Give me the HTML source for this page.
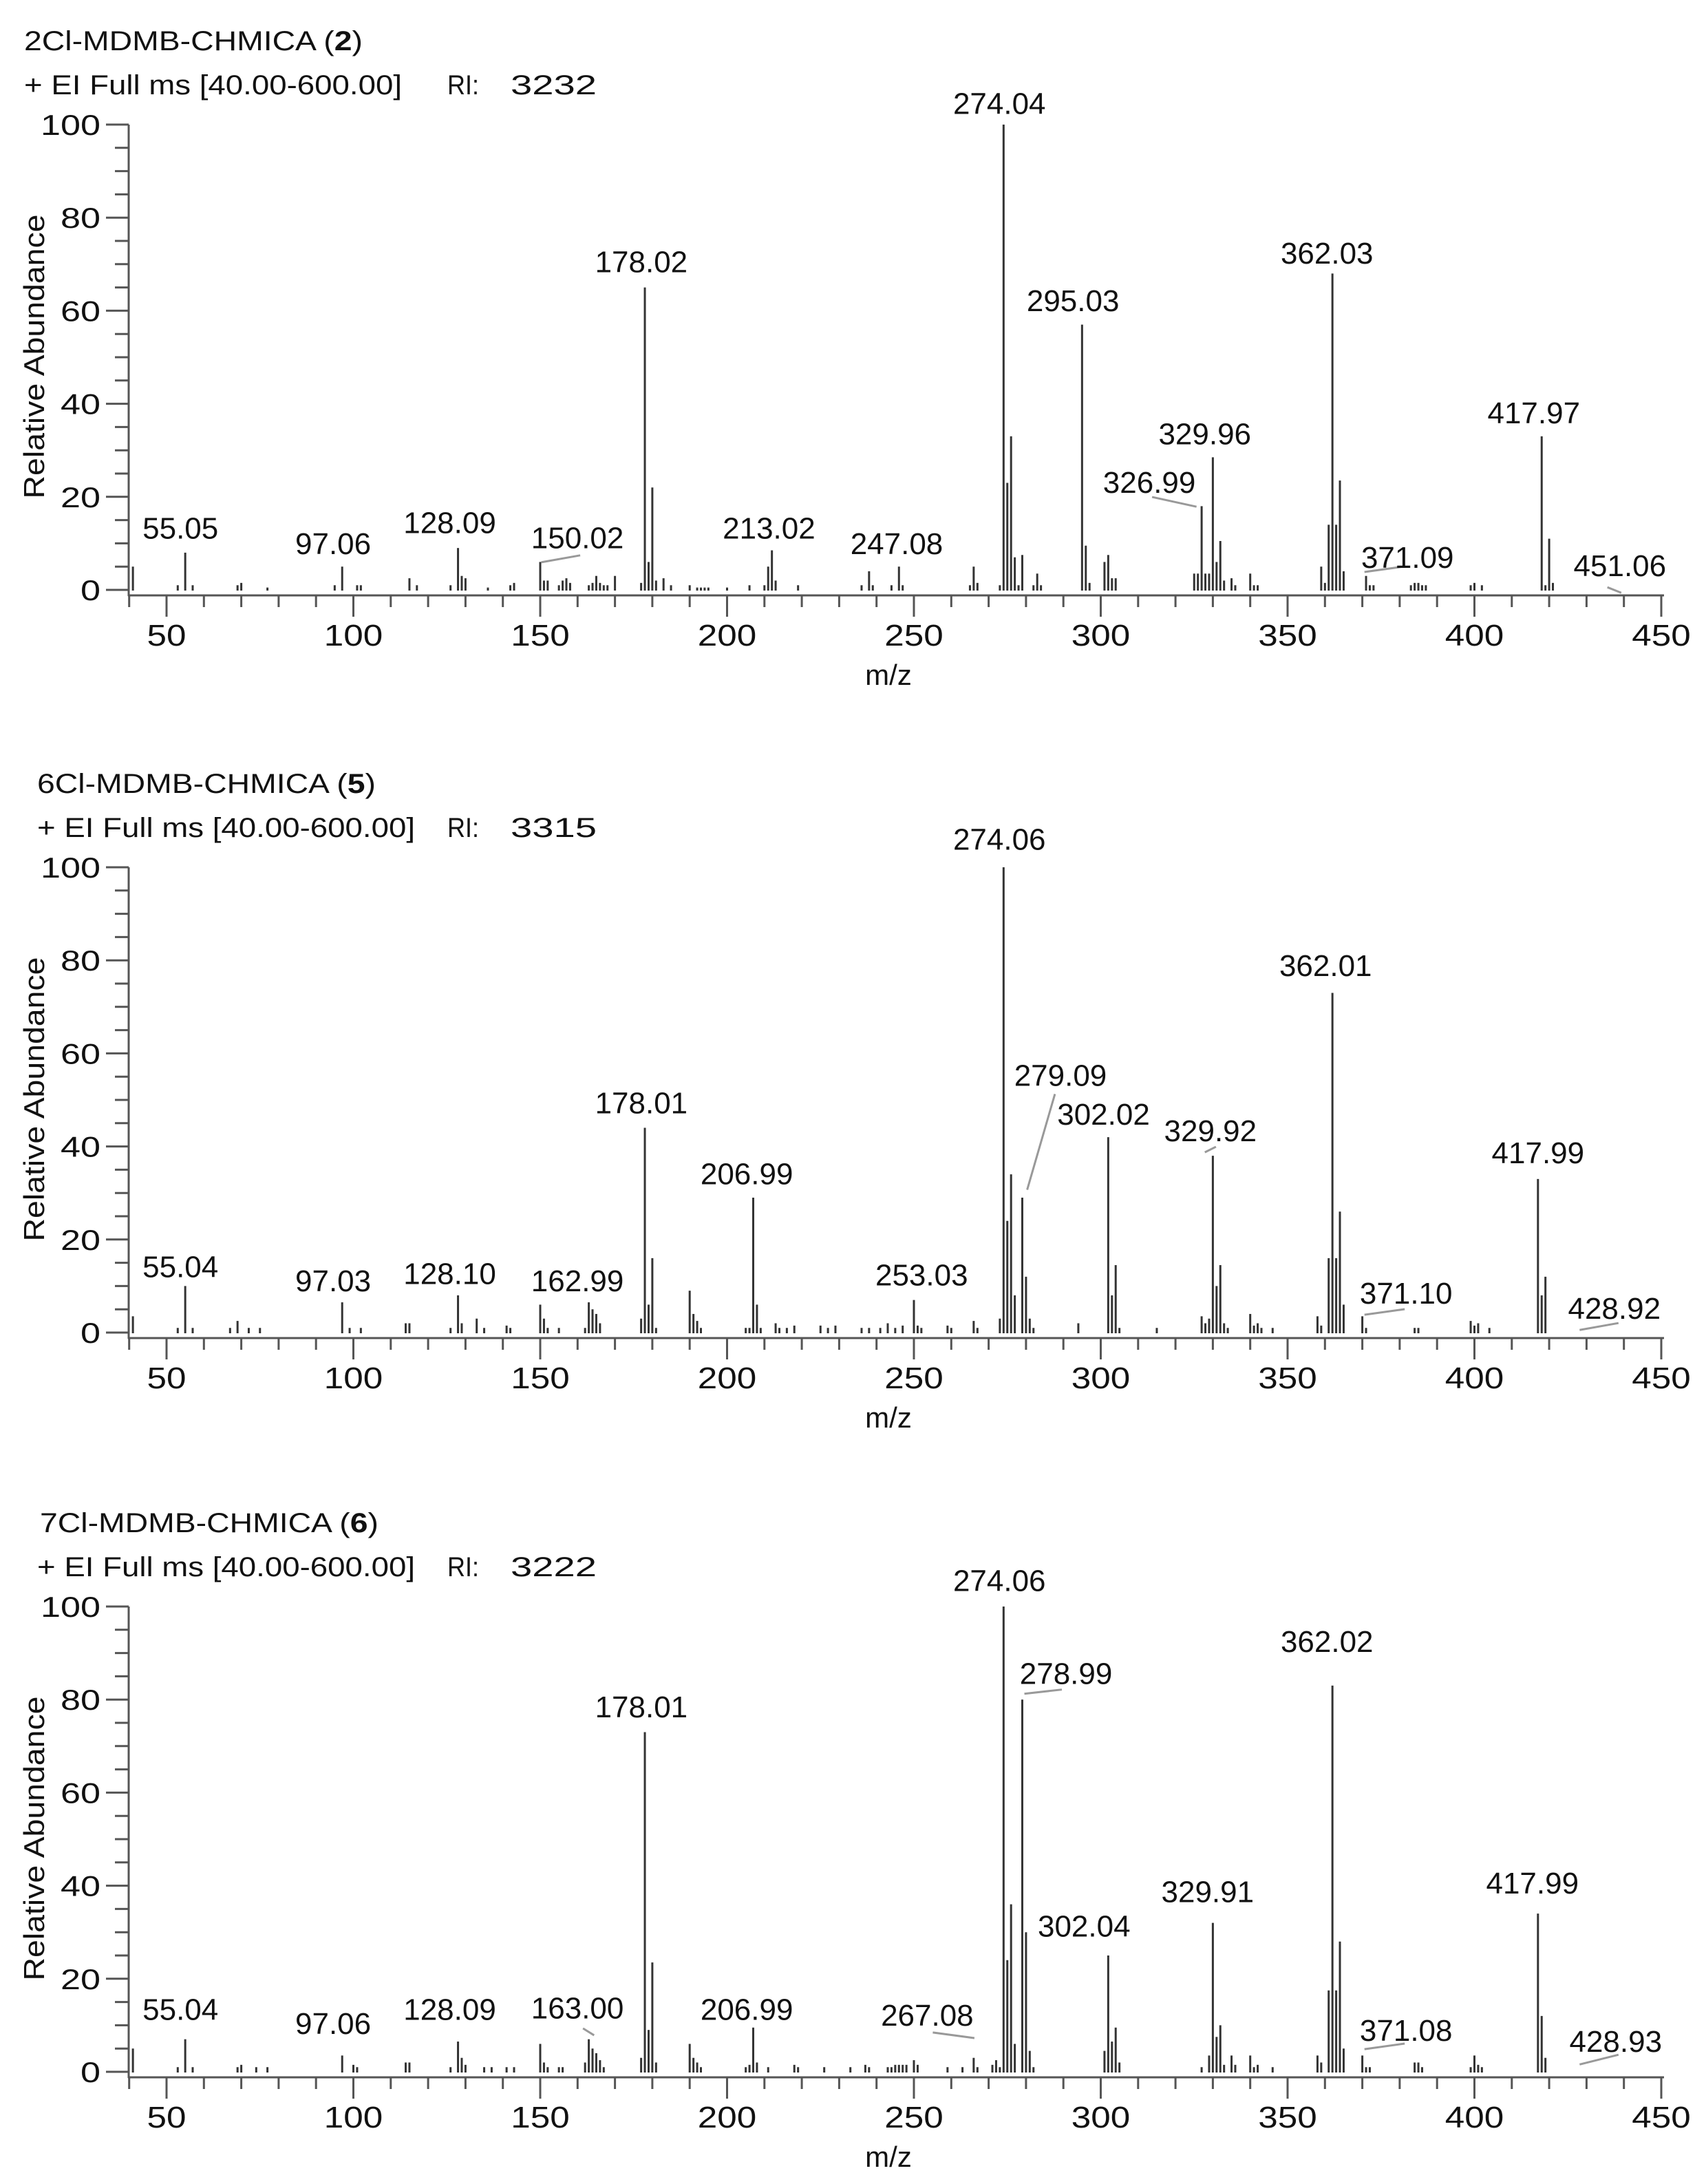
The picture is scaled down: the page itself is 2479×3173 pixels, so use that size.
<!DOCTYPE html>
<html><head><meta charset="utf-8"><style>
html,body{margin:0;padding:0;background:#fff}
svg{display:block}
text{font-family:"Liberation Sans",Arial,sans-serif;fill:#111}
</style></head><body>
<svg id="s" width="2479" height="3173" viewBox="0 0 2479 3173" xmlns="http://www.w3.org/2000/svg"></svg>
<script>
const S=document.getElementById('s');
let h='';
const X=m=>242+(m-50)*5.43;
const K=2.017;
const panels=[
{dy:0,tx:35,sx:35,title:'2Cl-MDMB-CHMICA',num:'2',ri:'3232',
peaks:{41:5,53:1,55:8,57:1,69:1,70:1.5,77:0.5,95:1,97:5,101:1,102:1,115:2.5,117:1,126:1,128:9,129:3,130:2.5,136:0.5,142:1,143:1.5,150:6,151:2,152:2,155:1,156:2,157:2.5,158:1.5,163:1,164:1.5,165:3,166:1.5,167:1,168:1,170:3,177:1.5,178:65,179:6,180:22,181:2,183:2.5,185:1,190:1,192:0.5,193:0.5,194:0.5,195:0.5,200:0.5,206:1,210:1,211:5,212:8.5,213:2,219:1,236:1,238:4,239:1,244:1,246:5,247:1,265:1,266:5,267:1.5,273:1,274:100,275:23,276:33,277:7,278:1,279:7.5,282:1,283:3.5,284:1,295:57,296:9.5,297:1.5,301:6,302:7.5,303:2.5,304:2.5,325:3.5,326:3.5,327:18,328:3.5,329:3.5,330:28.5,331:6,332:10.5,333:2,335:2.5,336:1,340:3.5,341:1,342:1,359:5,360:1.5,361:14,362:68,363:14,364:23.5,365:4,371:3,372:1,373:1,383:1,384:1.5,385:1.5,386:1,387:1,399:1,400:1.5,402:1,418:33,419:1,420:11,421:1.5},
labels:[['274.04',720,82],['178.02',462,196],['295.03',773,224],['362.03',956,190],['329.96',868,320],['326.99',828,355],['417.97',1105,305],['55.05',130,388],['97.06',240,399],['128.09',324,384],['150.02',416,395],['213.02',554,388],['247.08',646,399],['371.09',1014,409],['451.06',1167,415]],
leaders:[[830,358,862,365],[390,405,418,400],[983,412,1012,408],[1158,423,1168,427]]},
{dy:1079,tx:54,sx:54,title:'6Cl-MDMB-CHMICA',num:'5',ri:'3315',
peaks:{41:3.5,53:1,55:10,57:1,67:1,69:2.5,72:1,75:1,97:6.5,99:1,102:1,114:2,115:2,126:1,128:8,129:2,133:3,135:1,141:1.5,142:1,150:6,151:3,152:1,155:1,162:1,163:6.5,164:5,165:4,166:2,177:3,178:44,179:6,180:16,181:1,190:9,191:4,192:2.5,193:1,205:1,206:1,207:29,208:6,209:1,213:2,214:1,216:1,218:1.5,225:1.5,227:1,229:1.5,236:1,238:1,241:1,243:2,245:1,247:1.5,250:7,251:1.5,252:1,259:1.5,260:1,266:2.5,267:1,273:3,274:100,275:24,276:34,277:8,279:29,280:12,281:3,282:1,294:2,302:42,303:8,304:14.5,305:1,315:1,327:3.5,328:2,329:3,330:38,331:10,332:14.5,333:2,334:1,340:4,341:1.5,342:2,343:1,346:1,358:3.5,359:1.5,361:16,362:73,363:16,364:26,365:6,370:3.5,371:1,384:1,385:1,399:2.5,400:1.5,401:2,404:1,417:33,418:8,419:12},
labels:[['274.06',720,612],['362.01',955,703],['279.09',764,782],['302.02',795,810],['329.92',872,822],['178.01',462,802],['206.99',538,853],['417.99',1108,838],['55.04',130,920],['97.03',240,930],['128.10',324,925],['162.99',416,930],['253.03',664,926],['371.10',1013,939],['428.92',1163,950]],
leaders:[[740,857,760,788],[983,947,1012,943],[1138,958,1166,953],[868,830,876,826]]},
{dy:2153,tx:58,sx:54,title:'7Cl-MDMB-CHMICA',num:'6',ri:'3222',
peaks:{41:5,53:1,55:7,57:1,69:1,70:1.5,74:1,77:1,97:3.5,100:1.5,101:1,114:2,115:2,126:1,128:6.5,129:3,130:1.5,135:1,137:1,141:1,143:1,150:6,151:2,152:1,155:1,156:1,162:2,163:7,164:5,165:4,166:2.5,167:1,177:3,178:73,179:9,180:23.5,181:2,190:6,191:3,192:2,193:1,205:1,206:1.5,207:9.5,208:2,211:1,218:1.5,219:1,226:1,233:1,237:1.5,238:1,243:1,244:1,245:1.5,246:1.5,247:1.5,248:1.5,250:2.5,251:1.5,259:1,263:1,266:3,267:1,271:1.5,272:2.5,273:1,274:100,275:24,276:36,277:6,279:80,280:30,281:4.5,282:1,301:4.5,302:25,303:6.5,304:9.5,305:2,327:1,329:3.5,330:32,331:7.5,332:10,333:1.5,335:3.5,336:1.5,340:3.5,341:1,342:1.5,346:1,358:3.5,359:2,361:17.5,362:83,363:17.5,364:28,365:5,370:3.5,371:1,372:1,384:2,385:2,386:1,399:1,400:3.5,401:1.5,402:1,417:34,418:12,419:3},
labels:[['274.06',720,1146],['278.99',768,1213],['362.02',956,1190],['178.01',462,1237],['329.91',870,1370],['302.04',781,1395],['417.99',1104,1364],['55.04',130,1455],['97.06',240,1465],['128.09',324,1455],['163.00',416,1454],['206.99',538,1455],['267.08',668,1459],['371.08',1013,1470],['428.93',1164,1478]],
leaders:[[738,1220,765,1217],[420,1461,428,1466],[672,1464,702,1468],[983,1476,1012,1472],[1138,1487,1166,1480]]}
];
for(const p of panels){
  const d=p.dy, Y=v=>857+d-v*6.76;
  h+=`<text x="${p.tx}" y="${73+d}" font-size="40" textLength="492" lengthAdjust="spacingAndGlyphs">${p.title}  (<tspan font-weight="bold">${p.num}</tspan>)</text>`;
  h+=`<text x="${p.sx}" y="${137+d}" font-size="40" textLength="549" lengthAdjust="spacingAndGlyphs">+ EI Full ms [40.00-600.00]</text>`;
  h+=`<text x="650" y="${137+d}" font-size="40" textLength="46" lengthAdjust="spacingAndGlyphs">RI:</text><text x="742" y="${137+d}" font-size="40" textLength="125" lengthAdjust="spacingAndGlyphs">${p.ri}</text>`;
  h+=`<text transform="translate(64,${518+d}) rotate(-90)" text-anchor="middle" font-size="42" textLength="413" lengthAdjust="spacingAndGlyphs">Relative Abundance</text>`;
  h+=`<g stroke="#555" stroke-width="3" fill="none">`;
  h+=`<line x1="187" y1="${Y(100)}" x2="187" y2="${866+d}"/>`;
  h+=`<line x1="186" y1="${865+d}" x2="2418" y2="${865+d}"/>`;
  for(let v=0;v<=100;v+=5){const maj=v%20==0;h+=`<line x1="${maj?154:167}" y1="${Y(v)}" x2="187" y2="${Y(v)}"/>`;}
  for(let m=40;m<=450;m+=10){const maj=m%50==0;h+=`<line x1="${X(m)}" y1="${865+d}" x2="${X(m)}" y2="${(maj?896:882)+d}"/>`;}
  h+=`</g>`;
  for(let v=0;v<=100;v+=20){const s=String(v);h+=`<text x="${146-s.length*29}" y="${Y(v)+15}" font-size="42" textLength="${s.length*29}" lengthAdjust="spacingAndGlyphs">${s}</text>`;}
  for(let m=50;m<=450;m+=50){const s=String(m);h+=`<text x="${X(m)-s.length*14.25}" y="${938+d}" font-size="44" textLength="${s.length*28.5}" lengthAdjust="spacingAndGlyphs">${s}</text>`;}
  h+=`<text x="1291" y="${995+d}" font-size="42" text-anchor="middle">m/z</text>`;
  h+=`<g stroke="#333" stroke-width="3">`;
  for(const k in p.peaks){const x=X(+k);h+=`<line x1="${x}" y1="${858+d}" x2="${x}" y2="${Y(p.peaks[k])}"/>`;}
  h+=`</g><g stroke="#999" stroke-width="3">`;
  for(const l of p.leaders)h+=`<line x1="${l[0]*K}" y1="${l[1]*K}" x2="${l[2]*K}" y2="${l[3]*K}"/>`;
  h+=`</g>`;
  for(const l of p.labels)h+=`<text x="${l[1]*K}" y="${l[2]*K}" font-size="44" text-anchor="middle">${l[0]}</text>`;
}
S.innerHTML=h;
</script>
</body></html>
